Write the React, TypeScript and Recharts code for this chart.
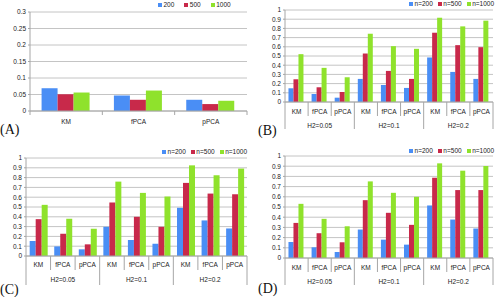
import { BarChart, Bar, XAxis, YAxis, CartesianGrid } from 'recharts';

// --- DATA ---
const methods = ['KM', 'fPCA', 'pPCA'];
const groups = ['H2=0.05', 'H2=0.1', 'H2=0.2'];
const namesA = ['200', '500', '1000'];
const namesN = ['n=200', 'n=500', 'n=1000'];
const ticksA = [0, 0.05, 0.1, 0.15, 0.2, 0.25, 0.3];
const ticksN = [0, 0.1, 0.2, 0.3, 0.4, 0.5, 0.6, 0.7, 0.8, 0.9, 1];

// (A) KM, fPCA, pPCA
const aN200 = [0.069, 0.047, 0.034];
const aN500 = [0.051, 0.034, 0.021];
const aN1000 = [0.056, 0.062, 0.031];

// (B)-(D): H2=0.05 (KM, fPCA, pPCA), H2=0.1 (...), H2=0.2 (...)
const bN200 = [0.149, 0.087, 0.047, 0.251, 0.185, 0.153, 0.484, 0.327, 0.251];
const bN500 = [0.247, 0.16, 0.109, 0.527, 0.338, 0.251, 0.753, 0.618, 0.596];
const bN1000 = [0.52, 0.371, 0.269, 0.742, 0.607, 0.578, 0.916, 0.822, 0.884];

const cN200 = [0.153, 0.098, 0.068, 0.298, 0.163, 0.125, 0.492, 0.363, 0.281];
const cN500 = [0.376, 0.227, 0.119, 0.546, 0.4, 0.298, 0.746, 0.637, 0.63];
const cN1000 = [0.522, 0.38, 0.278, 0.759, 0.644, 0.607, 0.925, 0.824, 0.892];

const dN200 = [0.157, 0.105, 0.059, 0.279, 0.18, 0.131, 0.515, 0.377, 0.289];
const dN500 = [0.344, 0.243, 0.154, 0.567, 0.443, 0.325, 0.787, 0.666, 0.666];
const dN1000 = [0.531, 0.384, 0.311, 0.751, 0.639, 0.6, 0.928, 0.856, 0.902];

// --- STYLES ---
const COLORS = ['#4a8ef5', '#c8294a', '#8fe22c'];
const FONT = '"Liberation Sans", Arial, sans-serif';
const AXIS = '#a6a6a6';
const GRID = '#c4c4c4';
const TXT = 6.5;

const rowsA = methods.map((m, i) => ({ id: m, method: m, group: '', s0: aN200[i], s1: aN500[i], s2: aN1000[i] }));
const makeRows = (v0: number[], v1: number[], v2: number[]) =>
  groups.flatMap((g, gi) =>
    methods.map((m, mi) => ({ id: `${g}|${m}`, method: m, group: g, s0: v0[gi * 3 + mi], s1: v1[gi * 3 + mi], s2: v2[gi * 3 + mi] }))
  );

const fmt = (v: number) => String(+v.toFixed(2));

// category tick with Excel-like separators, optional second level
const CatTick = (props: any) => {
  const { x, y, index, bandW, rows, multi, catY, groupY, catLen, groupLen } = props;
  const row = rows[index];
  const n = rows.length;
  const isGroupStart = multi ? index % 3 === 0 : true;
  const leftLen = multi ? (isGroupStart ? groupLen : catLen) : catLen;
  return (
    <g>
      <line x1={x - bandW / 2} x2={x - bandW / 2} y1={y} y2={y + leftLen} stroke={AXIS} />
      {index === n - 1 && (
        <line x1={x + bandW / 2} x2={x + bandW / 2} y1={y} y2={y + (multi ? groupLen : catLen)} stroke={AXIS} />
      )}
      <text x={x} y={y + catY} textAnchor="middle" fontSize={TXT} fill="#222" fontFamily={FONT}>
        {row.method}
      </text>
      {multi && index % 3 === 1 && (
        <text x={x} y={y + groupY} textAnchor="middle" fontSize={TXT} fill="#222" fontFamily={FONT}>
          {row.group}
        </text>
      )}
    </g>
  );
};

const LegendBox = ({ names, pos, gap }: { names: string[]; pos: any; gap: number }) => (
  <div style={{ position: 'absolute', ...pos, display: 'flex', gap, fontFamily: FONT, fontSize: 6.5, lineHeight: '7px', color: '#222', whiteSpace: 'nowrap' }}>
    {names.map((nm, i) => (
      <span key={nm} style={{ display: 'flex', alignItems: 'center', gap: 1.5 }}>
        <span style={{ width: 4, height: 4, background: COLORS[i], display: 'inline-block' }} />
        {nm}
      </span>
    ))}
  </div>
);

interface PanelProps {
  left: number;
  top: number;
  width: number;
  height: number;
  rows: any[];
  ticks: number[];
  yAxisWidth: number;
  marginTop: number;
  marginRight: number;
  xAxisHeight: number;
  multi: boolean;
  gap: string;
  catY: number;
  groupY: number;
  catLen: number;
  groupLen: number;
}

const Panel = (p: PanelProps) => {
  const plotW = p.width - p.yAxisWidth - p.marginRight;
  const bandW = plotW / p.rows.length;
  return (
    <div style={{ position: 'absolute', left: p.left, top: p.top }}>
      <BarChart
        width={p.width}
        height={p.height}
        data={p.rows}
        margin={{ top: p.marginTop, right: p.marginRight, bottom: 0, left: 0 }}
        barCategoryGap={p.gap}
        barGap={0}
      >
        <CartesianGrid vertical={false} stroke={GRID} />
        <XAxis
          dataKey="id"
          height={p.xAxisHeight}
          interval={0}
          stroke={AXIS}
          tickLine={false}
          tickSize={0}
          tickMargin={0}
          tick={(t: any) => (
            <CatTick
              {...t}
              bandW={bandW}
              rows={p.rows}
              multi={p.multi}
              catY={p.catY}
              groupY={p.groupY}
              catLen={p.catLen}
              groupLen={p.groupLen}
            />
          )}
        />
        <YAxis
          width={p.yAxisWidth}
          domain={[0, p.ticks[p.ticks.length - 1]]}
          ticks={p.ticks}
          interval={0}
          tickFormatter={fmt}
          stroke={AXIS}
          tickSize={2}
          tickMargin={2}
          tick={{ fontSize: TXT, fill: '#222', fontFamily: FONT }}
        />
        <Bar dataKey="s0" fill={COLORS[0]} isAnimationActive={false} />
        <Bar dataKey="s1" fill={COLORS[1]} isAnimationActive={false} />
        <Bar dataKey="s2" fill={COLORS[2]} isAnimationActive={false} />
      </BarChart>
    </div>
  );
};

const PanelLabel = ({ text, left, top }: { text: string; left: number; top: number }) => (
  <div style={{ position: 'absolute', left, top, fontFamily: '"Liberation Serif", "DejaVu Serif", serif', fontSize: 14, lineHeight: '14px', color: '#111' }}>
    {text}
  </div>
);

export default function App() {
  return (
    <div style={{ position: 'absolute', left: 0, top: 0, width: 495, height: 297, background: '#fff', overflow: 'hidden' }}>
      <Panel
        left={0} top={0} width={250} height={148} rows={rowsA} ticks={ticksA}
        yAxisWidth={30} marginTop={12} marginRight={3} xAxisHeight={37}
        multi={false} gap="16%" catY={13} groupY={0} catLen={4} groupLen={4}
      />
      <Panel
        left={245} top={0} width={250} height={148} rows={makeRows(bN200, bN500, bN1000)} ticks={ticksN}
        yAxisWidth={40} marginTop={10} marginRight={2} xAxisHeight={46}
        multi={true} gap="15%" catY={12} groupY={26} catLen={14} groupLen={27}
      />
      <Panel
        left={0} top={148} width={250} height={149} rows={makeRows(cN200, cN500, cN1000)} ticks={ticksN}
        yAxisWidth={26} marginTop={10} marginRight={3} xAxisHeight={41}
        multi={true} gap="15%" catY={11} groupY={26} catLen={14} groupLen={29}
      />
      <Panel
        left={245} top={148} width={250} height={149} rows={makeRows(dN200, dN500, dN1000)} ticks={ticksN}
        yAxisWidth={40} marginTop={8} marginRight={2} xAxisHeight={39}
        multi={true} gap="15%" catY={12} groupY={26} catLen={14} groupLen={27}
      />
      <LegendBox names={namesA} pos={{ left: 158, top: 1 }} gap={10} />
      <LegendBox names={namesN} pos={{ right: 1, top: 0 }} gap={5} />
      <LegendBox names={namesN} pos={{ right: 248, top: 148 }} gap={5} />
      <LegendBox names={namesN} pos={{ right: 1, top: 147 }} gap={5} />
      <PanelLabel text="(A)" left={0} top={123} />
      <PanelLabel text="(B)" left={258} top={124} />
      <PanelLabel text="(C)" left={0} top={283} />
      <PanelLabel text="(D)" left={258} top={282} />
    </div>
  );
}
